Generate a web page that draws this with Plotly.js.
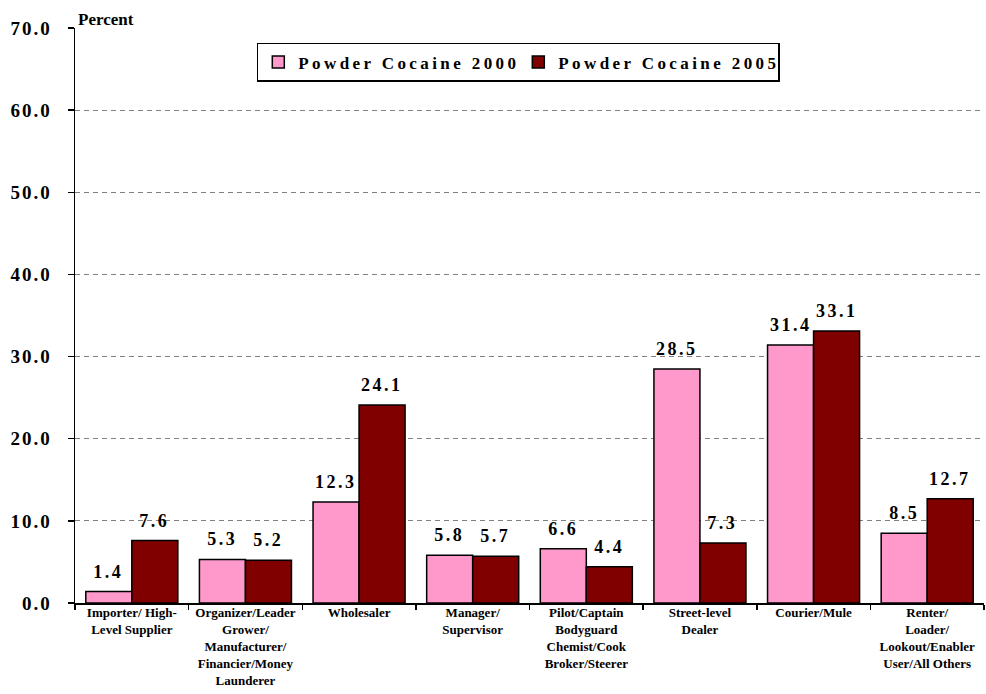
<!DOCTYPE html>
<html>
<head>
<meta charset="utf-8">
<script src="https://cdn.plot.ly/plotly-3.0.1.min.js"></script>
<style>
  html, body { margin: 0; padding: 0; background: #fff; }
  #chart { width: 986px; height: 694px; }
  .legendtext { letter-spacing: 3.4px; }
  .annotation:not([data-index="0"]) .annotation-text { letter-spacing: 2.5px; }
  .yaxislayer-above .ytick text { letter-spacing: 2px; }
</style>
</head>
<body>
<div id="chart"></div>
<script>
const categories = [
  "Importer/ High-<br>Level Supplier",
  "Organizer/Leader<br>Grower/<br>Manufacturer/<br>Financier/Money<br>Launderer",
  "Wholesaler",
  "Manager/<br>Supervisor",
  "Pilot/Captain<br>Bodyguard<br>Chemist/Cook<br>Broker/Steerer",
  "Street-level<br>Dealer",
  "Courier/Mule",
  "Renter/<br>Loader/<br>Lookout/Enabler<br>User/All Others"
];
const values2000 = [1.4, 5.3, 12.3, 5.8, 6.6, 28.5, 31.4, 8.5];
const values2005 = [7.6, 5.2, 24.1, 5.7, 4.4, 7.3, 33.1, 12.7];
const seriesNames = ["Powder Cocaine 2000", "Powder Cocaine 2005"];
const yTicks = [0, 10, 20, 30, 40, 50, 60, 70];

const serif = "Liberation Serif";

function barTrace(name, vals, color) {
  return {
    type: 'bar',
    name: name,
    x: categories,
    y: vals,
    marker: { color: color, line: { color: '#000', width: 1.5 } },
    hoverinfo: 'none'
  };
}

const data = [
  barTrace(seriesNames[0], values2000, '#FF99CC'),
  barTrace(seriesNames[1], values2005, '#800000')
];

// value labels centred over each bar of the group (two bars per category)
const groupWidthFrac = 0.81; // 1 - bargap
const barCentreShift = groupWidthFrac / 4;
const labelAnnotations = [];
[values2000, values2005].forEach((vals, s) => {
  vals.forEach((v, i) => {
    labelAnnotations.push({
      xref: 'x', yref: 'y',
      x: i + (s === 0 ? -barCentreShift : barCentreShift),
      y: v,
      text: v.toFixed(1),
      showarrow: false,
      xanchor: 'center', yanchor: 'bottom',
      yshift: 8,
      font: { family: serif, size: 18, color: '#000', weight: 'bold' }
    });
  });
});

const layout = {
  width: 986,
  height: 694,
  margin: { l: 75, r: 2, t: 28, b: 91 },
  paper_bgcolor: '#fff',
  plot_bgcolor: '#fff',
  barmode: 'group',
  bargap: 1 - groupWidthFrac,
  bargroupgap: 0,
  showlegend: true,
  legend: {
    orientation: 'h',
    x: 0.2,
    y: 0.974,
    xanchor: 'left',
    yanchor: 'top',
    bordercolor: '#000',
    borderwidth: 1.5,
    bgcolor: '#fff',
    font: { family: serif, size: 17, color: '#000', weight: 'bold' },
    itemwidth: 30,
    entrywidth: 215,
    itemclick: false
  },
  xaxis: {
    type: 'category',
    showline: true,
    linecolor: '#000',
    linewidth: 1.5,
    ticks: 'outside',
    tickson: 'boundaries',
    ticklen: 5,
    tickcolor: '#000',
    tickwidth: 1.5,
    tickangle: 0,
    tickfont: { family: serif, size: 13, color: '#000', weight: 'bold' },
    ticklabelstandoff: -3,
    showgrid: false,
    fixedrange: true
  },
  yaxis: {
    range: [0, 70],
    tickvals: yTicks,
    ticktext: yTicks.map(v => v.toFixed(1)),
    showline: true,
    linecolor: '#000',
    linewidth: 1.5,
    ticks: 'outside',
    ticklen: 6,
    tickcolor: '#000',
    tickwidth: 1.5,
    tickfont: { family: serif, size: 19, color: '#000', weight: 'bold' },
    ticklabelstandoff: 12,
    showgrid: true,
    gridcolor: '#808080',
    griddash: '5px,4px',
    gridwidth: 1,
    zeroline: false,
    fixedrange: true
  },
  annotations: [{
    text: 'Percent',
    xref: 'paper', yref: 'paper',
    x: 0, y: 1,
    xanchor: 'left', yanchor: 'bottom',
    xshift: 1,
    yshift: -3,
    showarrow: false,
    font: { family: serif, size: 17, color: '#000', weight: 'bold' }
  }].concat(labelAnnotations)
};

Plotly.newPlot('chart', data, layout, { displayModeBar: false, staticPlot: true });
</script>
</body>
</html>
